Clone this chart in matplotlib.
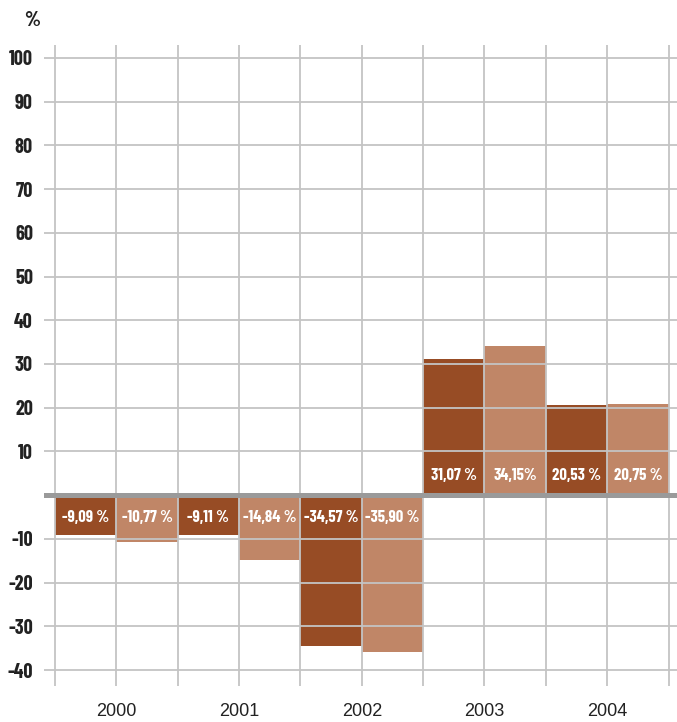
import matplotlib
matplotlib.use("Agg")
import matplotlib.pyplot as plt

years = ["2000", "2001", "2002", "2003", "2004"]
dark_values = [-9.09, -9.11, -34.57, 31.07, 20.53]
light_values = [-10.77, -14.84, -35.90, 34.15, 20.75]
dark_labels = ["-9,09 %", "-9,11 %", "-34,57 %", "31,07 %", "20,53 %"]
light_labels = ["-10,77 %", "-14,84 %", "-35,90 %", "34,15%", "20,75 %"]
yticks = [-40, -30, -20, -10, 10, 20, 30, 40, 50, 60, 70, 80, 90, 100]

DARK = "#974c25"
LIGHT = "#c08667"
GRID = "#c4c4c4"
ZERO = "#9a9a9a"
COND = ["Barlow Condensed", "DejaVu Sans"]

fig = plt.figure(figsize=(6.77, 7.22), dpi=100)
ax = fig.add_axes([44/677, 36/722, 633/677, 641/722])

n = len(years)
xd = [2*i + 0.5 for i in range(n)]
xl = [2*i + 1.5 for i in range(n)]
ax.bar(xd, dark_values, width=1.0, color=DARK, zorder=2)
ax.bar(xl, light_values, width=1.0, color=LIGHT, zorder=2)

for v in yticks:
    ax.axhline(v, color=GRID, lw=1.3, zorder=3)
for x in range(2*n + 1):
    ax.axvline(x, color=GRID, lw=1.3, zorder=3)
ax.axhline(0, color=ZERO, lw=3.6, zorder=4)

for xs, vals, labs in ((xd, dark_values, dark_labels), (xl, light_values, light_labels)):
    for x, v, lab in zip(xs, vals, labs):
        off = -22 if v < 0 else 20
        ax.annotate(lab, xy=(x, 0), xytext=(0, off), textcoords="offset pixels",
                    ha="center", va="center", color="white", fontsize=12,
                    fontweight="bold", family=COND, zorder=5)

ax.set_xlim((44-55)/61.35, (677-55)/61.35)
ax.set_ylim(-43.66, 102.97)
ax.set_yticks(yticks)
ax.set_yticklabels([str(v) for v in yticks], family=COND, fontweight="bold",
                   fontsize=14.5, color="#222222")
ax.set_xticks([2*i + 1 for i in range(n)])
ax.set_xticklabels(years, family=["Liberation Sans", "DejaVu Sans"], fontsize=13,
                   color="#222222")
ax.tick_params(axis="y", length=0, pad=8)
ax.tick_params(axis="x", length=0, pad=12)
for s in ax.spines.values():
    s.set_visible(False)

fig.text(32/677, 1 - 21/722, "%", ha="center", va="center", family=COND,
         fontweight="bold", fontsize=15, color="#222222")

fig.savefig("out.png", dpi=100)
